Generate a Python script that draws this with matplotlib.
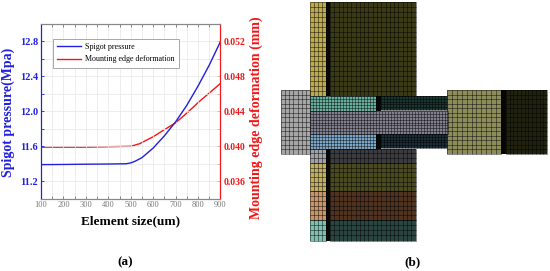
import matplotlib
matplotlib.use('Agg')
import matplotlib.pyplot as plt
from matplotlib.patches import Rectangle

plt.rcParams['font.family'] = ['Liberation Serif', 'DejaVu Serif']

# panel (a) curves
size_blue = [100, 200, 300, 400, 480, 500, 520, 550, 600, 650, 700, 750, 800, 850, 900]
pressure = [11.39, 11.392, 11.395, 11.397, 11.40, 11.41, 11.43, 11.47, 11.58, 11.72, 11.88, 12.07, 12.29, 12.53, 12.80]
size_red = [100, 200, 300, 400, 500, 520, 540, 570, 600, 650, 700, 750, 800, 850, 900]
deformation = [0.0399, 0.0399, 0.0399, 0.03995, 0.04, 0.04015, 0.0403, 0.0407, 0.0411, 0.0419, 0.0427, 0.0438, 0.045, 0.0461, 0.0472]
x_ticks = [100, 200, 300, 400, 500, 600, 700, 800, 900]
left_ticks = [11.2, 11.6, 12.0, 12.4, 12.8]
right_ticks = [0.036, 0.040, 0.044, 0.048, 0.052]

# panel (b) mesh blocks in image pixels: x0, x1, y0, y1, fill, columns, rows
mesh_blocks = [
    (309.5, 326, 2, 96, '#bcaa50', 4, 19),
    (330, 415.5, 2, 96, '#3a3a16', 20, 19),
    (281, 310, 90, 154, '#a6a6a6', 7, 14),
    (310, 376, 96, 111, '#68ae9e', 22, 5),
    (381, 447, 96, 110, '#1b3530', 22, 5),
    (310, 448, 111, 134, '#82808e', 46, 8),
    (310, 376, 134, 148.6, '#7ca6c6', 22, 5),
    (381, 447, 134, 148, '#1b2e38', 22, 5),
    (447, 501, 90, 154, '#8d8d5c', 11, 14),
    (506, 547, 90, 154, '#20220f', 11, 14),
    (309.5, 326, 148.6, 163, '#a0a0a8', 4, 3),
    (330, 415.5, 148.6, 163, '#3c3c40', 20, 3),
    (309.5, 326, 163, 191, '#bfae60', 4, 6),
    (330, 415.5, 163, 191, '#4a4a20', 20, 6),
    (309.5, 326, 191, 220, '#c8946a', 4, 6),
    (330, 415.5, 191, 220, '#4f3220', 20, 6),
    (309.5, 326, 220, 240.6, '#80bfb0', 4, 4),
    (330, 415.5, 220, 240.6, '#2a4540', 20, 4),
]
black_strips = [
    (326, 330, 2, 96),
    (326, 330, 148.6, 240.6),
    (376, 381, 96, 111),
    (376, 381, 134, 148.6),
    (501, 506, 90, 154),
]

fig = plt.figure(figsize=(5.5, 2.71), dpi=100)
W, H = 550, 271

# ---------- panel (a)
ax = fig.add_axes([41 / W, 1 - 198.7 / H, 179.5 / W, 174.7 / H])
ax2 = ax.twinx()
ax.set_zorder(ax2.get_zorder() + 1)
ax.patch.set_visible(False)

ax.plot(size_blue, pressure, color='#2020e0', lw=1.0, label='Spigot pressure')
ax2.plot(size_red, deformation, color='#f01818', lw=1.0)
ax.plot([], [], color='#f01818', lw=1.0, label='Mounting edge deformation')

ax.set_xlim(100, 900)
ax.set_ylim(11.0, 13.0)
ax2.set_ylim(0.034, 0.054)
ax.set_xticks(x_ticks)
ax.set_yticks(left_ticks)
ax2.set_yticks(right_ticks)
ax2.set_yticklabels(['%.3f' % v for v in right_ticks])
ax.set_xticks([v + 50 for v in x_ticks[:-1]], minor=True)
ax.set_yticks([v + 0.2 for v in left_ticks] + [11.0], minor=True)
ax2.set_yticks([v + 0.002 for v in right_ticks] + [0.034], minor=True)
ax.grid(True, which='both', color='#e6e6e6', lw=0.5)
ax.set_axisbelow(True)

ax.tick_params(axis='x', which='both', colors='#777777', labelsize=6, length=2, width=0.6, pad=1.5, direction='in', top=True)
ax.tick_params(axis='y', which='both', colors='#2020e0', labelsize=7.5, length=2, width=0.6, pad=2, direction='in')
ax2.tick_params(axis='y', which='both', colors='#f01818', labelsize=7, length=2, width=0.6, pad=2.5, direction='in')
for lab in ax.get_yticklabels() + ax2.get_yticklabels():
    lab.set_fontweight('bold')

for a in [ax, ax2]:
    a.spines['left'].set_color('#2020e0')
    a.spines['right'].set_color('#f01818')
    a.spines['top'].set_color('#888888')
    a.spines['bottom'].set_color('#888888')
    for s in a.spines.values():
        s.set_linewidth(0.8)

# labels placed where they sit in the reference
fig.text(131 / W, 1 - 221.5 / H, 'Element size(um)', fontsize=9.5, fontweight='bold', ha='center', va='center')
fig.text(8 / W, 1 - 112 / H, 'Spigot pressure(Mpa)', fontsize=10, fontweight='bold', color='#2020e0',
         rotation=90, ha='center', va='center')
fig.text(256 / W, 1 - 118 / H, 'Mounting edge deformation (mm)', fontsize=10, fontweight='bold', color='#f01818',
         rotation=90, ha='center', va='center')

leg = ax.legend(loc='upper left', bbox_to_anchor=(0.067, 0.914), fontsize=5.8, frameon=True, fancybox=False,
                edgecolor='#999999', framealpha=1, borderpad=0.5, labelspacing=0.55, handlelength=3.0,
                handletextpad=0.5, borderaxespad=0)
leg.get_frame().set_linewidth(0.6)

fig.text(125 / W, 1 - 262 / H, '(a)', fontsize=9.5, fontweight='bold', ha='center', va='center')

# ---------- panel (b)
mesh = fig.add_axes([0, 0, 1, 1])
mesh.set_xlim(0, W)
mesh.set_ylim(H, 0)
mesh.axis('off')
mesh.patch.set_visible(False)

for x0, x1, y0, y1, fill, nx, ny in mesh_blocks:
    mesh.add_patch(Rectangle((x0, y0), x1 - x0, y1 - y0, facecolor=fill, edgecolor='none'))
    dx = (x1 - x0) / nx
    dy = (y1 - y0) / ny
    mesh.vlines([x0 + i * dx for i in range(nx + 1)], y0, y1, color='black', lw=0.45, alpha=0.7)
    mesh.hlines([y0 + j * dy for j in range(ny + 1)], x0, x1, color='black', lw=0.45, alpha=0.7)
for x0, x1, y0, y1 in black_strips:
    mesh.add_patch(Rectangle((x0, y0), x1 - x0, y1 - y0, facecolor='#060606', edgecolor='none'))

mesh.text(412.7, 262, '(b)', fontsize=9.5, fontweight='bold', ha='center', va='center')

fig.savefig('out.png', dpi=100)
